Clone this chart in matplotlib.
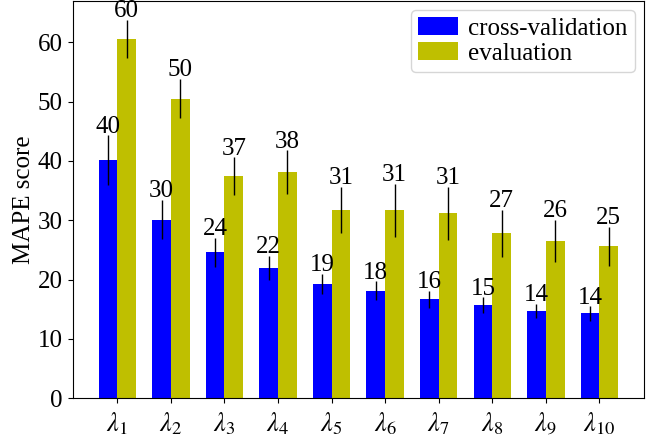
import numpy as np
import matplotlib
matplotlib.use('Agg')
import matplotlib.pyplot as plt

plt.rcParams['font.family'] = ['Liberation Serif', 'DejaVu Serif']
plt.rcParams['mathtext.fontset'] = 'stix'

# MAPE scores
labels = [r'$\lambda_{%d}$' % i for i in range(1, 11)]
cv = [40.1, 30.1, 24.6, 22.0, 19.3, 18.1, 16.7, 15.7, 14.7, 14.3]
cv_err = [4.2, 3.3, 2.5, 2.0, 1.7, 1.6, 1.4, 1.3, 1.2, 1.2]
ev = [60.6, 50.5, 37.4, 38.1, 31.8, 31.7, 31.2, 27.8, 26.5, 25.6]
ev_err = [3.2, 3.3, 3.2, 3.7, 3.9, 4.5, 4.5, 4.0, 3.6, 3.3]

ind = np.arange(len(labels))
width = 0.35
fs = 18

fig = plt.figure(figsize=(6.46, 4.47), dpi=100)
ax = fig.add_axes([0.1125, 0.109, 0.8845, 0.889])

ax.bar(ind - width/2, cv, width, yerr=cv_err, color='b', ecolor='k',
       error_kw=dict(lw=1), label='cross-validation')
ax.bar(ind + width/2, ev, width, yerr=ev_err, color='y', ecolor='k',
       error_kw=dict(lw=1), label='evaluation')

# value sitting on top of each error bar
for i in ind:
    ax.annotate('%d' % int(cv[i]), (i - width/2, cv[i] + cv_err[i]), xytext=(0, 2),
                textcoords='offset points', ha='center', va='baseline', fontsize=fs)
    ax.annotate('%d' % int(ev[i]), (i + width/2, ev[i] + ev_err[i]), xytext=(0, 2),
                textcoords='offset points', ha='center', va='baseline', fontsize=fs)

ax.set_xticks(ind)
ax.set_xticklabels(labels)
ax.tick_params(labelsize=fs)
ax.tick_params(axis='x', pad=5, labelsize=19)
ax.set_ylabel('MAPE score', fontsize=fs, labelpad=2)
ax.legend(loc=1, fontsize=fs, handlelength=1.6, handletextpad=0.4,
          borderpad=0.3, labelspacing=0.1, borderaxespad=0.35)

fig.savefig('out.png', dpi=100)
